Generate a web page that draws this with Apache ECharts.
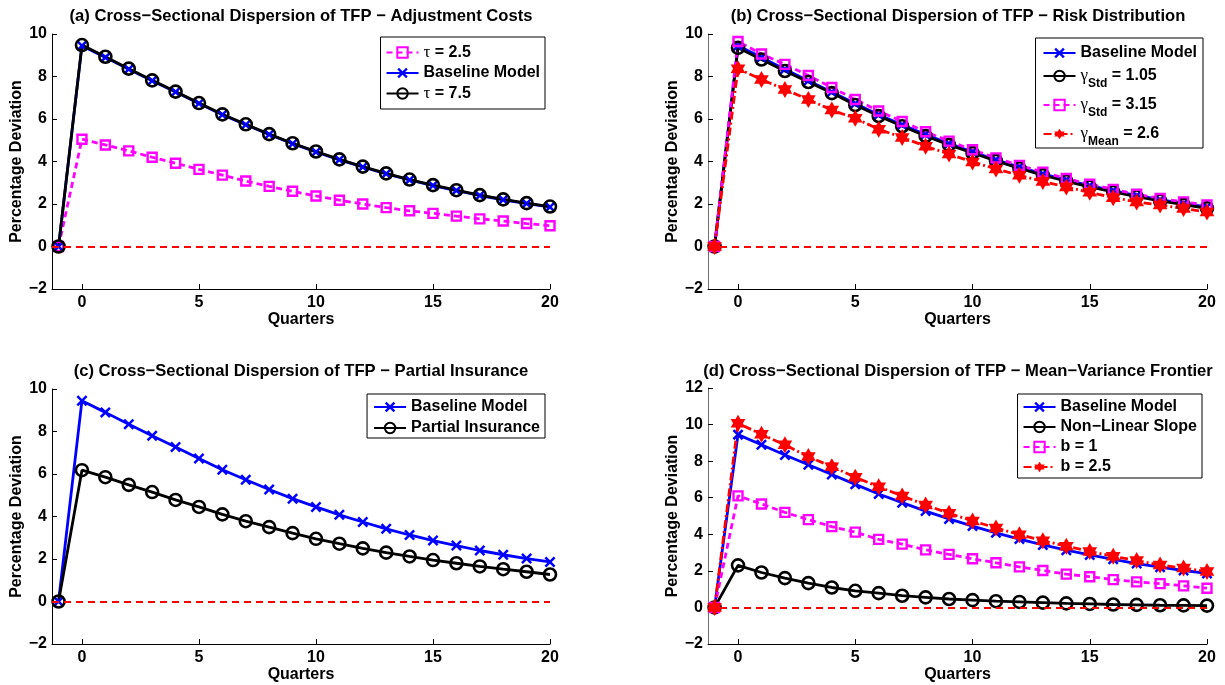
<!DOCTYPE html>
<html>
<head>
<meta charset="utf-8">
<script src="https://cdn.jsdelivr.net/npm/echarts@6/dist/echarts.min.js"></script>
<style>
html,body{margin:0;padding:0;background:#fff;}
#chart{width:1225px;height:685px;}
</style>
</head>
<body>
<div id="chart"></div>
<script>
// ---------- data ----------
const quarters = [-1,0,1,2,3,4,5,6,7,8,9,10,11,12,13,14,15,16,17,18,19,20];
const xTicks = [0,5,10,15,20];

const baseline   = [0,9.45,8.90,8.34,7.80,7.27,6.73,6.20,5.73,5.27,4.84,4.45,4.08,3.74,3.42,3.13,2.87,2.63,2.40,2.20,2.02,1.86];

// (a) adjustment costs
const aTau25     = [0,5.05,4.78,4.50,4.20,3.92,3.63,3.36,3.08,2.83,2.60,2.38,2.18,2.00,1.83,1.68,1.56,1.43,1.30,1.20,1.08,0.98];
const aTau75     = [0,9.48,8.93,8.37,7.82,7.29,6.75,6.22,5.75,5.29,4.86,4.47,4.10,3.76,3.44,3.15,2.89,2.65,2.42,2.22,2.04,1.88];

// (b) risk distribution
const bStd105    = [0,9.35,8.80,8.26,7.74,7.22,6.66,6.14,5.66,5.20,4.78,4.40,4.03,3.68,3.36,3.07,2.81,2.57,2.35,2.15,1.97,1.80];
const bStd315    = [0,9.65,9.06,8.57,8.05,7.48,6.92,6.38,5.88,5.40,4.96,4.55,4.17,3.82,3.50,3.20,2.93,2.69,2.46,2.26,2.10,1.96];
const bMean26    = [0,8.37,7.86,7.39,6.92,6.42,6.03,5.52,5.13,4.72,4.35,3.98,3.65,3.35,3.06,2.80,2.55,2.30,2.10,1.95,1.79,1.62];

// (c) partial insurance
const cPartial   = [0,6.18,5.85,5.49,5.15,4.78,4.45,4.10,3.78,3.50,3.22,2.95,2.72,2.50,2.30,2.12,1.95,1.80,1.65,1.52,1.40,1.27];

// (d) mean-variance frontier
const dNonLinear = [0,2.30,1.91,1.60,1.33,1.09,0.91,0.78,0.64,0.55,0.46,0.40,0.34,0.30,0.26,0.22,0.19,0.16,0.14,0.12,0.11,0.10];
const dB1        = [0,6.10,5.66,5.20,4.80,4.42,4.12,3.72,3.46,3.15,2.90,2.66,2.44,2.22,2.02,1.82,1.68,1.52,1.40,1.30,1.18,1.05];
const dB25       = [0,10.07,9.47,8.89,8.25,7.70,7.12,6.60,6.10,5.60,5.15,4.73,4.35,3.98,3.65,3.35,3.06,2.80,2.56,2.32,2.15,1.97];

const titles = [
  '(a) Cross\u2212Sectional Dispersion of TFP \u2212 Adjustment Costs',
  '(b) Cross\u2212Sectional Dispersion of TFP \u2212 Risk Distribution',
  '(c) Cross\u2212Sectional Dispersion of TFP \u2212 Partial Insurance',
  '(d) Cross\u2212Sectional Dispersion of TFP \u2212 Mean\u2212Variance Frontier'
];
const yMax = [10, 10, 10, 12];

// ---------- styling ----------
const FONT = '"Liberation Sans", Arial, Helvetica, sans-serif';
const SERIF = '"Liberation Serif", "DejaVu Serif", serif';
const X_PATH = 'path://M0,1.6L1.6,0L5,3.4L8.4,0L10,1.6L6.6,5L10,8.4L8.4,10L5,6.6L1.6,10L0,8.4L3.4,5Z';
const HEX_PATH = 'path://M50,0L64.45,24.97L93.3,25L78.9,50L93.3,75L64.45,75.03L50,100L35.55,75.03L6.7,75L21.1,50L6.7,25L35.55,24.97Z';

const grids = [
  {left: 52,  top: 34,  width: 498, height: 255},
  {left: 708, top: 34,  width: 499, height: 255},
  {left: 52,  top: 389, width: 498, height: 255},
  {left: 708, top: 388, width: 499, height: 256}
];

const styles = {
  blue:   {line: '#0000ff', type: 'solid', symbol: X_PATH, size: 11, fill: '#0000ff', border: '#0000ff', bw: 0},
  black:  {line: '#000000', type: 'solid', symbol: 'circle', size: 12, fill: 'rgba(0,0,0,0)', border: '#000000', bw: 2.6},
  magenta:{line: '#ff00ff', type: [6,4], symbol: 'rect', size: 9, fill: 'rgba(0,0,0,0)', border: '#ff00ff', bw: 2.4},
  red:    {line: '#ff0000', type: [8,3,2,3], symbol: HEX_PATH, size: 17, fill: '#ff0000', border: '#ff0000', bw: 0}
};

function pts(vals) { return quarters.map((q, i) => [q, vals[i]]); }

function mk(name, vals, gi, st, zeroLine) {
  const s = styles[st];
  const ser = {
    type: 'line', name: name, xAxisIndex: gi, yAxisIndex: gi,
    data: pts(vals), symbol: s.symbol, symbolSize: s.size, symbolKeepAspect: true,
    showSymbol: true, animation: false, silent: true,
    lineStyle: {color: s.line, width: 2.8, type: s.type},
    itemStyle: {color: s.fill, borderColor: s.border, borderWidth: s.bw}
  };
  if (zeroLine) {
    ser.markLine = {
      silent: true, animation: false, symbol: ['none', 'none'], label: {show: false},
      lineStyle: {color: '#ff0000', type: [7,5], width: 2},
      data: [{yAxis: 0}]
    };
  }
  return ser;
}

const series = [
  mk('\u03c4 = 2.5', aTau25, 0, 'magenta', true),
  mk('Baseline Model', baseline, 0, 'blue'),
  mk('\u03c4 = 7.5', aTau75, 0, 'black'),

  mk('Baseline Model', baseline, 1, 'blue', true),
  mk('\u03b3Std = 1.05', bStd105, 1, 'black'),
  mk('\u03b3Std = 3.15', bStd315, 1, 'magenta'),
  mk('\u03b3Mean = 2.6', bMean26, 1, 'red'),

  mk('Baseline Model', baseline, 2, 'blue', true),
  mk('Partial Insurance', cPartial, 2, 'black'),

  mk('Baseline Model', baseline, 3, 'blue', true),
  mk('Non\u2212Linear Slope', dNonLinear, 3, 'black'),
  mk('b = 1', dB1, 3, 'magenta'),
  mk('b = 2.5', dB25, 3, 'red')
];

const labelStyle = {fontFamily: FONT, fontWeight: 'bold', fontSize: 16, color: '#000'};

const xAxes = grids.map((g, i) => ({
  type: 'value', gridIndex: i, min: -1.28, max: 20,
  axisLine: {show: true, onZero: false, lineStyle: {color: '#000', width: 1}},
  axisTick: {show: true, inside: true, length: 5, customValues: xTicks, lineStyle: {color: '#000', width: 1}},
  axisLabel: Object.assign({customValues: xTicks, margin: 6}, labelStyle),
  splitLine: {show: false},
  name: 'Quarters', nameLocation: 'middle', nameGap: 21,
  nameTextStyle: labelStyle
}));

const yAxes = grids.map((g, i) => ({
  type: 'value', gridIndex: i, min: -2, max: yMax[i], interval: 2,
  axisLine: {show: true, onZero: false, lineStyle: {color: (i % 2 === 1) ? '#707070' : '#000', width: 1}},
  axisTick: {show: true, inside: true, length: 5, lineStyle: {color: '#000', width: 1}},
  axisLabel: Object.assign({margin: 5, formatter: v => (v < 0 ? '\u2212' + Math.abs(v) : String(v))}, labelStyle),
  splitLine: {show: false},
  name: 'Percentage Deviation', nameLocation: 'middle', nameGap: 27,
  nameTextStyle: labelStyle
}));

const legendNames = {
  '\u03c4 = 2.5': '{g|\u03c4}{t| = 2.5}',
  '\u03c4 = 7.5': '{g|\u03c4}{t| = 7.5}',
  '\u03b3Std = 1.05': '{G|\u03b3}{s|Std}{T| = 1.05}',
  '\u03b3Std = 3.15': '{G|\u03b3}{s|Std}{T| = 3.15}',
  '\u03b3Mean = 2.6': '{G|\u03b3}{s|Mean}{T| = 2.6}'
};
const rich = {
  g: {fontFamily: SERIF, fontWeight: 'normal', fontSize: 17, lineHeight: 16, color: '#000'},
  t: {fontFamily: FONT, fontWeight: 'bold', fontSize: 16, lineHeight: 16, color: '#000'},
  G: {fontFamily: SERIF, fontWeight: 'normal', fontSize: 17, lineHeight: 28, color: '#000'},
  T: {fontFamily: FONT, fontWeight: 'bold', fontSize: 16, lineHeight: 28, color: '#000'},
  s: {fontFamily: FONT, fontWeight: 'bold', fontSize: 12, lineHeight: 12, verticalAlign: 'bottom', color: '#000'}
};
function legend(names, right, top, gap, padding) {
  return {
    data: names, orient: 'vertical', right: right, top: top, itemGap: gap, padding: padding,
    itemWidth: 32, itemHeight: 13, selectedMode: false,
    backgroundColor: '#fff', borderColor: '#000', borderWidth: 1, borderRadius: 0,
    textStyle: {fontFamily: FONT, fontWeight: 'bold', fontSize: 16, lineHeight: 16, color: '#000', rich: rich},
    formatter: n => legendNames[n] || n
  };
}

const centers = [301, 958, 301, 958];
const titleY = [16, 16, 371, 371];

const option = {
  backgroundColor: '#fff',
  animation: false,
  grid: grids,
  xAxis: xAxes,
  yAxis: yAxes,
  legend: [
    legend(['\u03c4 = 2.5', 'Baseline Model', '\u03c4 = 7.5'], 680, 37, 4, [7, 5, 7, 5]),
    legend(['Baseline Model', '\u03b3Std = 1.05', '\u03b3Std = 3.15', '\u03b3Mean = 2.6'], 22, 38, 1, [7, 6, 0, 7]),
    legend(['Baseline Model', 'Partial Insurance'], 680, 394, 5, [5, 5, 2, 6]),
    legend(['Baseline Model', 'Non\u2212Linear Slope', 'b = 1', 'b = 2.5'], 23, 394, 4, [5, 5, 3, 5])
  ],
  graphic: titles.map((t, i) => ({
    type: 'text', x: centers[i], y: titleY[i], silent: true,
    style: {text: t, font: 'bold 16.6px ' + FONT, fill: '#000', align: 'center', verticalAlign: 'middle'}
  })),
  series: series
};

const chart = echarts.init(document.getElementById('chart'), null, {renderer: 'canvas'});
chart.setOption(option);
</script>
</body>
</html>
